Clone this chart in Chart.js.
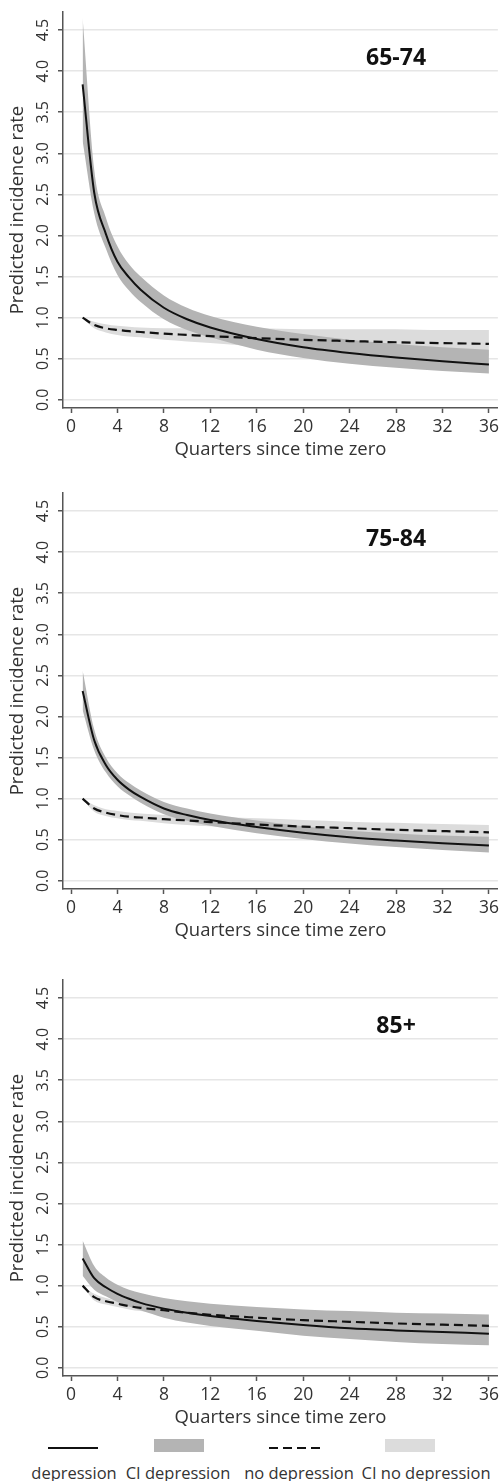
<!DOCTYPE html>
<html>
<head>
<meta charset="utf-8">
<script src="https://cdn.jsdelivr.net/npm/chart.js@4.4.0/dist/chart.umd.min.js"></script>
<style>
  body { margin: 0; background: #fff; width: 503px; height: 1481px; position: relative; overflow: hidden; font-family: "Open Sans", sans-serif; }
  .panel { position: absolute; left: 0; width: 503px; height: 470px; }
  .key { position: absolute; }
  .keytext { position: absolute; top: 1462px; width: 160px; margin-left: -80px; text-align: center; font-size: 16.5px; color: #333; line-height: 22px; white-space: nowrap; }
</style>
</head>
<body>
<div class="panel" style="top:0px"><canvas id="g1" width="503" height="470"></canvas></div>
<div class="panel" style="top:481px"><canvas id="g2" width="503" height="470"></canvas></div>
<div class="panel" style="top:968px"><canvas id="g3" width="503" height="470"></canvas></div>

<div class="key" style="left:48px; top:1447px; width:50px; height:2px; background:#111;"></div>
<div class="key" style="left:154px; top:1439px; width:50px; height:13px; background:#b4b4b4;"></div>
<div class="key" style="left:269px; top:1447px; width:51px; height:2px; background:repeating-linear-gradient(to right, #111 0 9px, transparent 9px 14px);"></div>
<div class="key" style="left:385px; top:1439px; width:50px; height:13px; background:#dcdcdc;"></div>
<div class="keytext" style="left:74px">depression</div>
<div class="keytext" style="left:178px">CI depression</div>
<div class="keytext" style="left:299px">no depression</div>
<div class="keytext" style="left:426px">CI no depression</div>

<script>
// quarters at which the predicted rates were read
const quarters = [1, 2, 3, 4, 5, 6, 8, 10, 12, 16, 20, 24, 28, 32, 36];
const xTicks = [0, 4, 8, 12, 16, 20, 24, 28, 32, 36];
const yTicks = [0, 0.5, 1, 1.5, 2, 2.5, 3, 3.5, 4, 4.5];

// 65-74
const dep6574     = [3.84, 2.52, 2.02, 1.68, 1.49, 1.34, 1.12, 0.98, 0.88, 0.74, 0.64, 0.57, 0.515, 0.47, 0.43];
const depHi6574   = [4.65, 2.80, 2.22, 1.87, 1.65, 1.50, 1.27, 1.12, 1.02, 0.89, 0.80, 0.73, 0.68, 0.64, 0.61];
const depLo6574   = [3.15, 2.27, 1.84, 1.52, 1.33, 1.19, 0.98, 0.85, 0.76, 0.61, 0.51, 0.44, 0.39, 0.35, 0.32];
const nodep6574   = [1.00, 0.91, 0.87, 0.85, 0.835, 0.825, 0.805, 0.79, 0.775, 0.75, 0.73, 0.715, 0.70, 0.69, 0.68];
const nodepHi6574 = [1.00, 0.95, 0.92, 0.90, 0.89, 0.88, 0.87, 0.87, 0.87, 0.87, 0.86, 0.86, 0.86, 0.85, 0.85];
const nodepLo6574 = [1.00, 0.87, 0.82, 0.79, 0.77, 0.76, 0.73, 0.71, 0.69, 0.65, 0.62, 0.59, 0.57, 0.55, 0.53];

// 75-84
const dep7584     = [2.31, 1.71, 1.41, 1.23, 1.11, 1.02, 0.88, 0.80, 0.74, 0.655, 0.585, 0.53, 0.49, 0.457, 0.43];
const depHi7584   = [2.56, 1.84, 1.50, 1.31, 1.19, 1.10, 0.96, 0.88, 0.82, 0.735, 0.665, 0.61, 0.575, 0.55, 0.535];
const depLo7584   = [2.08, 1.59, 1.32, 1.15, 1.04, 0.95, 0.81, 0.73, 0.67, 0.58, 0.51, 0.455, 0.41, 0.375, 0.345];
const nodep7584   = [1.00, 0.88, 0.83, 0.80, 0.78, 0.77, 0.75, 0.735, 0.715, 0.685, 0.66, 0.64, 0.62, 0.605, 0.59];
const nodepHi7584 = [1.00, 0.92, 0.87, 0.85, 0.83, 0.82, 0.80, 0.79, 0.78, 0.76, 0.74, 0.72, 0.705, 0.69, 0.68];
const nodepLo7584 = [1.00, 0.84, 0.79, 0.76, 0.74, 0.73, 0.70, 0.68, 0.665, 0.635, 0.605, 0.58, 0.555, 0.53, 0.51];

// 85+
const dep85     = [1.33, 1.09, 0.98, 0.90, 0.84, 0.79, 0.72, 0.67, 0.63, 0.57, 0.52, 0.48, 0.455, 0.435, 0.415];
const depHi85   = [1.55, 1.24, 1.10, 1.01, 0.95, 0.91, 0.85, 0.81, 0.78, 0.74, 0.71, 0.69, 0.67, 0.66, 0.65];
const depLo85   = [1.12, 0.95, 0.87, 0.80, 0.745, 0.70, 0.61, 0.55, 0.51, 0.45, 0.39, 0.35, 0.315, 0.29, 0.275];
const nodep85   = [1.00, 0.86, 0.81, 0.78, 0.75, 0.73, 0.70, 0.67, 0.645, 0.61, 0.58, 0.56, 0.54, 0.525, 0.51];
const nodepHi85 = [1.00, 0.90, 0.85, 0.82, 0.80, 0.78, 0.75, 0.72, 0.70, 0.67, 0.65, 0.63, 0.61, 0.60, 0.59];
const nodepLo85 = [1.00, 0.82, 0.77, 0.74, 0.71, 0.69, 0.65, 0.62, 0.59, 0.56, 0.52, 0.49, 0.47, 0.45, 0.44];

const FONT = '"Open Sans", sans-serif';
const INK = '#333';
const AXIS = '#555';
const DARK_BAND = '#b4b4b4';
const LIGHT_BAND = '#dcdcdc';

const pts = vals => quarters.map((q, i) => ({ x: q, y: vals[i] }));

// y tick labels run bottom-to-top, and the age group sits inside the plot
const panelText = {
  id: 'panelText',
  afterDraw(chart, args, opts) {
    const { ctx, scales: { x, y } } = chart;
    ctx.save();
    ctx.fillStyle = INK;
    ctx.font = '16px ' + FONT;
    ctx.textAlign = 'center';
    ctx.textBaseline = 'middle';
    yTicks.forEach(v => {
      ctx.save();
      ctx.translate(43, y.getPixelForValue(v));
      ctx.rotate(-Math.PI / 2);
      ctx.fillText(v.toFixed(1), 0, 0);
      ctx.restore();
    });
    ctx.font = 'bold 23px ' + FONT;
    ctx.fillStyle = '#111';
    ctx.fillText(opts.label, x.getPixelForValue(28), y.getPixelForValue(4.16));
    ctx.restore();
  }
};

function drawPanel(id, label, dep, depHi, depLo, nodep, nodepHi, nodepLo) {
  const band = (vals, color, fillTo, order) => ({
    data: pts(vals), borderWidth: 0, pointRadius: 0, backgroundColor: color,
    fill: fillTo, cubicInterpolationMode: 'monotone', order: order
  });
  new Chart(document.getElementById(id), {
    type: 'line',
    data: {
      datasets: [
        band(nodepHi, LIGHT_BAND, 1, 4),
        band(nodepLo, LIGHT_BAND, false, 4),
        band(depHi, DARK_BAND, 3, 3),
        band(depLo, DARK_BAND, false, 3),
        { label: 'no depression', data: pts(nodep), borderColor: '#111', borderWidth: 2.2, borderDash: [9, 5],
          pointRadius: 0, fill: false, cubicInterpolationMode: 'monotone', order: 2 },
        { label: 'depression', data: pts(dep), borderColor: '#111', borderWidth: 2,
          pointRadius: 0, fill: false, cubicInterpolationMode: 'monotone', order: 1 }
      ]
    },
    options: {
      responsive: false,
      animation: false,
      devicePixelRatio: 1,
      layout: { padding: { top: 12, right: 3, left: 0, bottom: 0 } },
      plugins: { legend: { display: false }, tooltip: { enabled: false }, panelText: { label: label } },
      scales: {
        x: {
          type: 'linear', min: -0.69, max: 36.77,
          afterBuildTicks: s => { s.ticks = xTicks.map(v => ({ value: v })); },
          afterFit: s => { s.height = 62; },
          grid: { drawOnChartArea: false, tickLength: 5, tickColor: AXIS, tickWidth: 1.5 },
          border: { color: AXIS, width: 1.5 },
          ticks: { padding: 4, color: INK, autoSkip: false, maxRotation: 0, font: { family: FONT, size: 17.5 } },
          title: { display: true, text: 'Quarters since time zero', color: INK,
                   font: { family: FONT, size: 18.5 }, padding: { top: 0, bottom: 9 } }
        },
        y: {
          type: 'linear', min: -0.1, max: 4.72,
          afterBuildTicks: s => { s.ticks = yTicks.map(v => ({ value: v })); },
          afterFit: s => { s.width = 63; },
          grid: { color: '#e6e6e6', lineWidth: 1.5, tickLength: 5, tickColor: AXIS, tickWidth: 1.5 },
          border: { color: AXIS, width: 1.5 },
          ticks: { display: false },
          title: { display: true, text: 'Predicted incidence rate', color: INK,
                   font: { family: FONT, size: 18.5 }, padding: { top: 7, bottom: 0 } }
        }
      }
    },
    plugins: [panelText]
  });
}

drawPanel('g1', '65-74', dep6574, depHi6574, depLo6574, nodep6574, nodepHi6574, nodepLo6574);
drawPanel('g2', '75-84', dep7584, depHi7584, depLo7584, nodep7584, nodepHi7584, nodepLo7584);
drawPanel('g3', '85+', dep85, depHi85, depLo85, nodep85, nodepHi85, nodepLo85);
</script>
</body>
</html>
